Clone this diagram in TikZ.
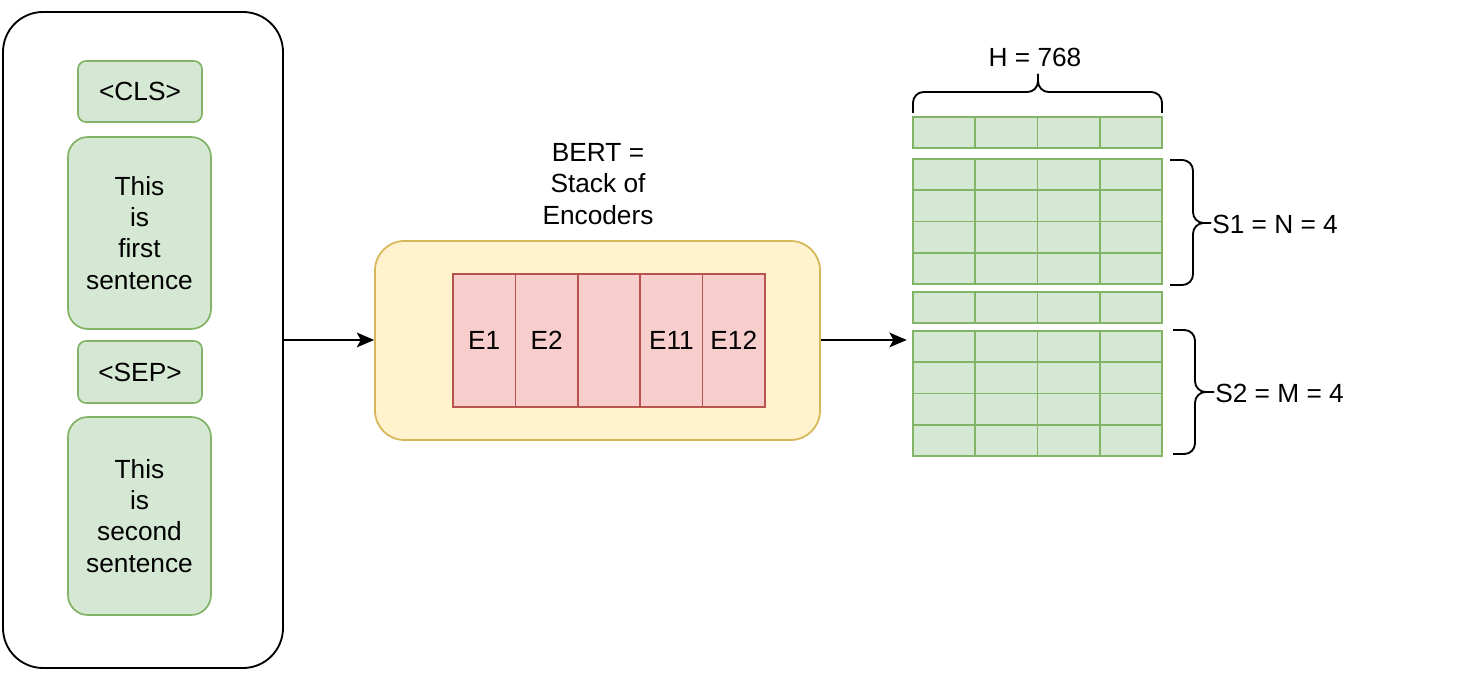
\documentclass[tikz,border=0pt]{standalone}
\usepackage{fontspec}
\setmainfont{Liberation Sans}
\usetikzlibrary{arrows.meta}
\definecolor{gfill}{HTML}{D5E8D4}
\definecolor{gdraw}{HTML}{82B366}
\definecolor{yfill}{HTML}{FFF2CC}
\definecolor{ydraw}{HTML}{D6B656}
\definecolor{rfill}{HTML}{F8CECC}
\definecolor{rdraw}{HTML}{B85450}
\begin{document}
\begin{tikzpicture}[x=0.75pt,y=-0.75pt,
  font=\fontsize{19.7}{23.4}\selectfont,
  greenbox/.style={draw=gdraw,fill=gfill,line width=1.3pt,align=center,inner sep=0pt},
  cell/.style={draw=gdraw,fill=gfill,line width=1.3pt,minimum width=46.7pt,minimum height=23.4pt,inner sep=0pt},
  enc/.style={draw=rdraw,fill=rfill,line width=1.3pt,minimum width=46.8pt,minimum height=99.75pt,inner sep=0pt},
  conn/.style={draw=black,line width=1.5pt,-{Stealth[length=13pt,width=11pt,inset=3pt]}},
  bracepath/.style={line width=1.4pt,rounded corners=8pt}]
\useasboundingbox (0,0) rectangle (1458,680);

% input block
\node[draw=black,line width=1.4pt,rounded corners=30pt,minimum width=210pt,minimum height=492pt,inner sep=0pt] (input) at (143,340) {};
\node[greenbox,rounded corners=6pt,minimum width=93pt,minimum height=45.75pt] (cls) at (140,91.5) {<CLS>};
\node[greenbox,rounded corners=15pt,minimum width=107.25pt,minimum height=144pt] (s1) at (139.5,233) {This\\is\\first\\sentence};
\node[greenbox,rounded corners=6pt,minimum width=93pt,minimum height=46.5pt] (sep) at (140,372) {<SEP>};
\node[greenbox,rounded corners=15pt,minimum width=107.25pt,minimum height=148.5pt] (s2) at (139.5,516) {This\\is\\second\\sentence};

% BERT
\node[draw=ydraw,fill=yfill,line width=1.3pt,rounded corners=22pt,minimum width=333.75pt,minimum height=149.25pt,inner sep=0pt] (bert) at (597.5,340.5) {};
\node[align=center] (bertlabel) at (598,184) {BERT =\\Stack of\\Encoders};
\node[enc] (e1) at (484.2,340.5) {E1};
\node[enc] (e2) at (546.6,340.5) {E2};
\node[enc] (e3) at (609.0,340.5) {};
\node[enc] (e11) at (671.4,340.5) {E11};
\node[enc] (e12) at (733.8,340.5) {E12};

% output grid
\foreach \c/\x in {1/944.1,2/1006.4,3/1068.6,4/1130.9}{
  \node[cell] (cls-\c) at (\x,132.5) {};
  \node[cell] (sep-\c) at (\x,307.5) {};
  \foreach \r/\y in {1/174.6,2/205.9,3/237.1,4/268.4}{
    \node[cell] (a-\r-\c) at (\x,\y) {};
  }
  \foreach \r/\y in {1/346.6,2/377.9,3/409.1,4/440.4}{
    \node[cell] (b-\r-\c) at (\x,\y) {};
  }
}

% braces
\draw[bracepath] (913,113) -- (913,92) -- (1038,92) -- (1038,74);
\draw[bracepath] (1162,113) -- (1162,92) -- (1038,92) -- (1038,74);
\node (hlabel) at (1035,57) {H = 768};

\draw[bracepath] (1170,160) -- (1193,160) -- (1193,223) -- (1211,223);
\draw[bracepath] (1170,285) -- (1193,285) -- (1193,223) -- (1211,223);
\node[anchor=west,inner sep=0pt] (s1label) at (1212,224) {S1 = N = 4};

\draw[bracepath] (1173,330) -- (1195,330) -- (1195,392) -- (1214,392);
\draw[bracepath] (1173,454) -- (1195,454) -- (1195,392) -- (1214,392);
\node[anchor=west,inner sep=0pt] (s2label) at (1215,393) {S2 = M = 4};

% connectors
\draw[conn] ([yshift=0.4pt]input.east |- bert.east) -- ([yshift=0.4pt]bert.west);
\draw[conn] ([yshift=0.4pt]bert.east) -- ([xshift=-4pt,yshift=0.4pt]bert.east -| b-1-1.west);
\end{tikzpicture}
\end{document}
